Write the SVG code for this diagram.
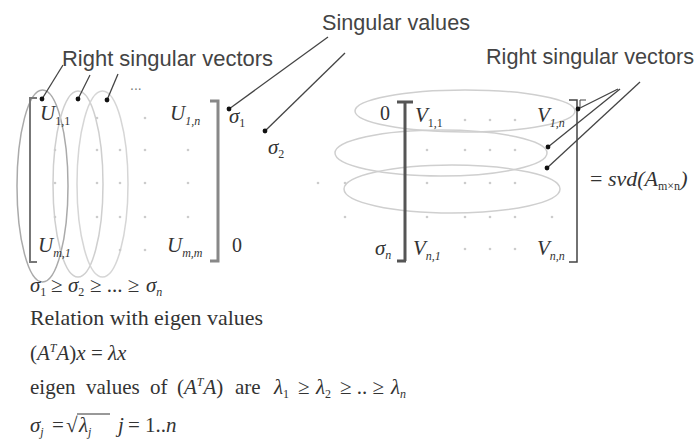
<svg xmlns="http://www.w3.org/2000/svg" width="696" height="441" viewBox="0 0 696 441">
<style>
.lbl{font-family:"Liberation Sans",Arial,sans-serif;font-size:22px;fill:#444}
.m{font-family:"Liberation Serif","Times New Roman",serif;font-style:italic;font-size:21px;fill:#333}
.r{font-family:"Liberation Serif","Times New Roman",serif;font-size:20px;fill:#333}
.sub{font-size:12px}
.n{font-style:normal}
.t{font-family:"Liberation Serif","Times New Roman",serif;font-size:21px;fill:#333}
.ti{font-style:italic}
.ell{fill:none;stroke:#cfcfcf;stroke-width:1.5}
.ld{fill:none;stroke:#444;stroke-width:1.3}
.gd{fill:#cccccc}
</style>
<defs>
<marker id="dot" viewBox="0 0 6 6" refX="3" refY="3" markerWidth="6" markerHeight="6" markerUnits="userSpaceOnUse"><circle cx="3" cy="3" r="2.4" fill="#111"/></marker>
</defs>
<rect width="696" height="441" fill="#fff"/>

<g id="label-singular-values"><text class="lbl" x="322" y="30" textLength="148" lengthAdjust="spacingAndGlyphs">Singular values</text></g>
<g id="label-right-vectors-left"><text class="lbl" x="62" y="66" textLength="211" lengthAdjust="spacingAndGlyphs">Right singular vectors</text></g>
<g id="label-right-vectors-right"><text class="lbl" x="486" y="64" textLength="208" lengthAdjust="spacingAndGlyphs">Right singular vectors</text></g>

<g id="matrix-U">
<ellipse class="ell" cx="42.5" cy="186" rx="25.5" ry="96" style="stroke:#aaaaaa"/>
<ellipse class="ell" cx="78" cy="184" rx="25" ry="93"/>
<ellipse class="ell" cx="102.5" cy="184" rx="25.5" ry="93" style="stroke:#d6d6d6"/>
<path d="M37,98 H30 V262 H37" fill="none" stroke="#777" stroke-width="2"/>
<text class="m" x="40" y="120">U<tspan class="sub n" dy="5">1,1</tspan></text>
<text class="m" x="170" y="120">U<tspan class="sub" dy="5">1,n</tspan></text>
<text class="m" x="38" y="252">U<tspan class="sub" dy="5">m,1</tspan></text>
<text class="m" x="167" y="252">U<tspan class="sub" dy="5">m,m</tspan></text>
<text x="130" y="90" style="font-family:'Liberation Sans',sans-serif;font-size:14px;fill:#777">...</text>
<g class="gd">
<circle cx="97" cy="118" r="1.3"/><circle cx="145" cy="118" r="1.3"/>
<circle cx="55" cy="150" r="1.3"/><circle cx="97" cy="150" r="1.3"/><circle cx="120" cy="150" r="1.3"/><circle cx="145" cy="150" r="1.3"/><circle cx="188" cy="150" r="1.3"/>
<circle cx="55" cy="183" r="1.3"/><circle cx="97" cy="183" r="1.3"/><circle cx="120" cy="183" r="1.3"/><circle cx="145" cy="183" r="1.3"/><circle cx="188" cy="183" r="1.3"/>
<circle cx="55" cy="217" r="1.3"/><circle cx="97" cy="217" r="1.3"/><circle cx="120" cy="217" r="1.3"/><circle cx="145" cy="217" r="1.3"/><circle cx="188" cy="217" r="1.3"/>
<circle cx="120" cy="250" r="1.3"/><circle cx="145" cy="250" r="1.3"/>
</g>
</g>

<g id="matrix-sigma">
<path d="M210,101 H218 V261 H210" fill="none" stroke="#888" stroke-width="3"/>
<text class="m" x="229" y="123">σ<tspan class="sub n" dy="4">1</tspan></text>
<text class="m" x="268" y="154">σ<tspan class="sub n" dy="4">2</tspan></text>
<text class="r" x="232" y="252">0</text>
<circle class="gd" cx="318" cy="183" r="1.3"/>
<text class="r" x="380" y="120">0</text>
<text class="m" x="375" y="255">σ<tspan class="sub" dy="4">n</tspan></text>
</g>

<g id="matrix-V">
<ellipse class="ell" cx="465" cy="111" rx="110" ry="21"/>
<ellipse class="ell" cx="441" cy="153" rx="106" ry="23"/>
<ellipse class="ell" cx="452" cy="189" rx="108" ry="24"/>
<path d="M397,102 H413 M405,102 V261 M397,261 H406" fill="none" stroke="#555" stroke-width="3"/>
<path d="M569,100 H577 V262 H569" fill="none" stroke="#444" stroke-width="1.5"/>
<path d="M580,107 V100 H586" fill="none" stroke="#444" stroke-width="1"/>
<text class="m" x="415" y="122">V<tspan class="sub n" dy="5">1,1</tspan></text>
<text class="m" x="537" y="122">V<tspan class="sub" dy="5">1,n</tspan></text>
<text class="m" x="413" y="255">V<tspan class="sub" dy="5">n,1</tspan></text>
<text class="m" x="537" y="255">V<tspan class="sub" dy="5">n,n</tspan></text>
<g class="gd">
<circle cx="465" cy="120" r="1.3"/><circle cx="490" cy="120" r="1.3"/><circle cx="515" cy="120" r="1.3"/>
<circle cx="427" cy="150" r="1.3"/><circle cx="465" cy="150" r="1.3"/><circle cx="490" cy="150" r="1.3"/><circle cx="515" cy="150" r="1.3"/>
<circle cx="345" cy="183" r="1.3"/><circle cx="427" cy="183" r="1.3"/><circle cx="465" cy="183" r="1.3"/><circle cx="490" cy="183" r="1.3"/><circle cx="515" cy="183" r="1.3"/>
<circle cx="345" cy="217" r="1.3"/><circle cx="427" cy="217" r="1.3"/><circle cx="465" cy="217" r="1.3"/><circle cx="490" cy="217" r="1.3"/><circle cx="515" cy="217" r="1.3"/><circle cx="552" cy="217" r="1.3"/>
<circle cx="465" cy="249" r="1.3"/><circle cx="490" cy="249" r="1.3"/><circle cx="515" cy="249" r="1.3"/>
</g>
</g>

<g id="equation-svd"><text class="m" x="590" y="186" style="font-size:22px"><tspan class="n">=</tspan> svd(A<tspan class="sub n" dy="4">m×n</tspan><tspan dy="-4">)</tspan></text></g>

<g id="connectors">
<line class="ld" x1="63" y1="65" x2="42" y2="99" marker-end="url(#dot)"/>
<line class="ld" x1="90" y1="75" x2="78" y2="99" marker-end="url(#dot)"/>
<line class="ld" x1="118" y1="74" x2="107" y2="100" marker-end="url(#dot)"/>
<line class="ld" x1="328" y1="37" x2="229" y2="109" marker-end="url(#dot)"/>
<line class="ld" x1="345" y1="53" x2="265" y2="131" marker-end="url(#dot)"/>
<line class="ld" x1="618" y1="89" x2="578" y2="109" marker-end="url(#dot)"/>
<line class="ld" x1="620" y1="89" x2="548" y2="147" marker-end="url(#dot)"/>
<line class="ld" x1="640" y1="82" x2="547" y2="168" marker-end="url(#dot)"/>
</g>

<g id="notes">
<text class="t" y="292"><tspan class="ti" x="30">σ</tspan><tspan class="sub" dy="4">1</tspan><tspan x="51" dy="-4">≥</tspan><tspan class="ti" x="68">σ</tspan><tspan class="sub" dy="4">2</tspan><tspan x="90" dy="-4">≥ ... ≥</tspan><tspan class="ti" x="146">σ</tspan><tspan class="sub ti" dy="4">n</tspan></text>
<text class="t" x="30" y="325" textLength="233" lengthAdjust="spacingAndGlyphs">Relation with eigen values</text>
<text class="t" y="360"><tspan x="30">(</tspan><tspan class="ti">A</tspan><tspan class="sub ti" dy="-8">T</tspan><tspan class="ti" dy="8">A</tspan>)<tspan class="ti">x</tspan> = <tspan class="ti">λx</tspan></text>
<text class="t" y="394"><tspan x="30">eigen</tspan><tspan x="86">values</tspan><tspan x="150">of</tspan><tspan x="177">(</tspan><tspan class="ti">A</tspan><tspan class="sub ti" dy="-8">T</tspan><tspan class="ti" dy="8">A</tspan>)<tspan x="235">are</tspan><tspan class="ti" x="274">λ</tspan><tspan class="sub" dy="4">1</tspan><tspan x="298" dy="-4">≥</tspan><tspan class="ti" x="316">λ</tspan><tspan class="sub" dy="4">2</tspan><tspan x="340" dy="-4">≥ .. ≥</tspan><tspan class="ti" x="391">λ</tspan><tspan class="sub ti" dy="4">n</tspan></text>
<text class="t" y="432"><tspan class="ti" x="30">σ</tspan><tspan class="sub ti" dy="4">j</tspan><tspan x="52" dy="-4">=</tspan><tspan x="66">√</tspan><tspan class="ti" x="79">λ</tspan><tspan class="sub ti" dy="4">j</tspan><tspan class="ti" x="118" dy="-4">j</tspan><tspan x="128">= 1..</tspan><tspan class="ti" x="166">n</tspan></text>
<line x1="77" y1="414" x2="110" y2="414" stroke="#333" stroke-width="1"/>
</g>
</svg>
